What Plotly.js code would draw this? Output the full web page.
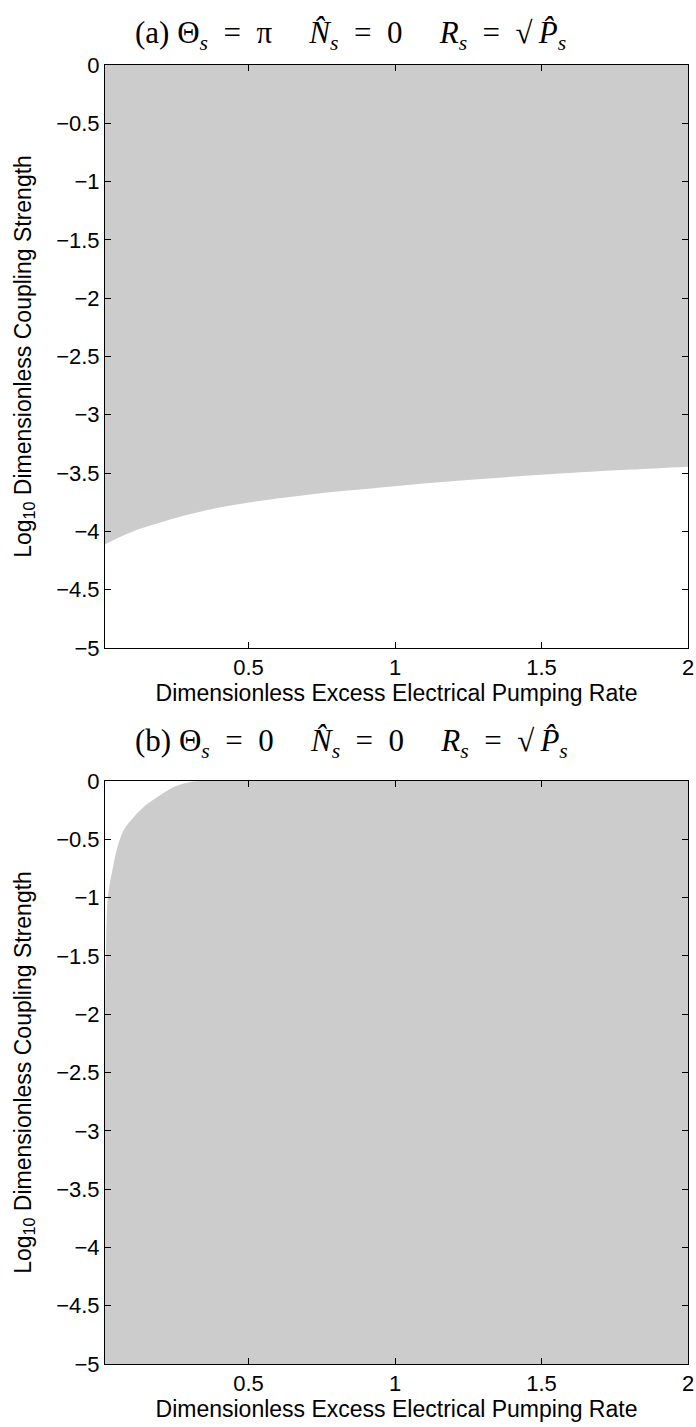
<!DOCTYPE html>
<html><head><meta charset="utf-8">
<script src="https://cdn.plot.ly/plotly-3.0.1.min.js"></script>
<style>html,body{margin:0;padding:0;background:#fff}</style></head>
<body><div id="chart" style="width:696px;height:1427px"></div>
<script>
// Panel (a): boundary of the grey region (grey above the curve, up to log10 = 0)
const pumpA  = [0.01, 0.105, 0.258, 0.411, 0.69, 0.969, 1.247, 1.526, 1.805, 2.0];
const boundA = [-4.11, -4.00, -3.88, -3.79, -3.69, -3.62, -3.56, -3.51, -3.47, -3.445];
const topA   = [0, 0, 0, 0, 0, 0, 0, 0, 0, 0];

// Panel (b): upper edge of the grey region (white corner at top-left)
const pumpB  = [0.01, 0.013, 0.018, 0.025, 0.034, 0.051, 0.074, 0.108, 0.148, 0.188, 0.246, 0.29, 0.33, 2.0];
const boundB = [-2.05, -1.5, -1.05, -0.9, -0.78, -0.58, -0.42, -0.31, -0.21, -0.14, -0.05, -0.015, 0, 0];
const floorB = [-5, -5, -5, -5, -5, -5, -5, -5, -5, -5, -5, -5, -5, -5];

const xTickVals = [0.5, 1, 1.5, 2];
const xTickText = ['0.5', '1', '1.5', '2'];
const yTickVals = [0, -0.5, -1, -1.5, -2, -2.5, -3, -3.5, -4, -4.5, -5];
const yTickText = ['0', '\u22120.5', '\u22121', '\u22121.5', '\u22122', '\u22122.5', '\u22123', '\u22123.5', '\u22124', '\u22124.5', '\u22125'];

const EQ = '\u2002=\u2002', GAP = '\u2003\u2009';
const titleA = '(a) \u0398<sub><i>s</i></sub>' + EQ + '\u03c0' + GAP + '<i>N\u0302</i><sub><i>s</i></sub>' + EQ + '0' + GAP + '<i>R</i><sub><i>s</i></sub>' + EQ + '\u221a\u2009<i>P\u0302</i><sub><i>s</i></sub>';
const titleB = '(b) \u0398<sub><i>s</i></sub>' + EQ + '0' + GAP + '<i>N\u0302</i><sub><i>s</i></sub>' + EQ + '0' + GAP + '<i>R</i><sub><i>s</i></sub>' + EQ + '\u221a\u2009<i>P\u0302</i><sub><i>s</i></sub>';
const xTitle = 'Dimensionless Excess Electrical Pumping Rate';
const yTitle = 'Log<sub>10</sub> Dimensionless Coupling Strength';

const GREY = '#cccccc';

const traces = [
  {x: pumpA, y: boundA, xaxis: 'x', yaxis: 'y', mode: 'lines', line: {width: 0, color: GREY, shape: 'spline'}, hoverinfo: 'skip', showlegend: false},
  {x: pumpA, y: topA, xaxis: 'x', yaxis: 'y', mode: 'lines', line: {width: 0, color: GREY}, fill: 'tonexty', fillcolor: GREY, hoverinfo: 'skip', showlegend: false},
  {x: pumpB, y: floorB, xaxis: 'x2', yaxis: 'y2', mode: 'lines', line: {width: 0, color: GREY}, hoverinfo: 'skip', showlegend: false},
  {x: pumpB, y: boundB, xaxis: 'x2', yaxis: 'y2', mode: 'lines', line: {width: 0, color: GREY, shape: 'spline'}, fill: 'tonexty', fillcolor: GREY, hoverinfo: 'skip', showlegend: false}
];

const tickFont = {family: 'Liberation Sans, Arial, sans-serif', size: 22, color: '#000'};
const titleFont = {family: 'Liberation Sans, Arial, sans-serif', size: 23, color: '#000'};
const headFont = {family: 'Liberation Serif, DejaVu Serif, serif', size: 31, color: '#000'};

function xAxis(anchor) {
  return {
    anchor: anchor, domain: [0, 1], range: [0.01, 2], tickvals: xTickVals, ticktext: xTickText,
    ticks: 'inside', ticklen: 6, tickcolor: '#000', tickwidth: 1, mirror: 'ticks',
    showline: true, linecolor: '#000', linewidth: 1, showgrid: false, zeroline: false,
    tickfont: tickFont, title: {text: xTitle, font: titleFont, standoff: 2}
  };
}
function yAxis(anchor, domain) {
  return {
    anchor: anchor, domain: domain, range: [-5, 0], tickvals: yTickVals, ticktext: yTickText,
    ticks: 'inside', ticklen: 6, tickcolor: '#000', tickwidth: 1, mirror: 'ticks',
    showline: true, linecolor: '#000', linewidth: 1, showgrid: false, zeroline: false,
    tickfont: tickFont, title: {text: yTitle, font: titleFont, standoff: 18}
  };
}

const layout = {
  width: 696, height: 1427,
  margin: {l: 105, r: 8, t: 65, b: 63},
  paper_bgcolor: '#fff', plot_bgcolor: '#fff',
  showlegend: false,
  xaxis: xAxis('y'), yaxis: yAxis('x', [0.5512, 1]),
  xaxis2: xAxis('y2'), yaxis2: yAxis('x2', [0, 0.4488]),
  annotations: [
    {text: titleA, xref: 'paper', yref: 'paper', x: 0.048, y: 1, xanchor: 'left', yanchor: 'bottom', yshift: 8, showarrow: false, font: headFont},
    {text: titleB, xref: 'paper', yref: 'paper', x: 0.048, y: 0.4488, xanchor: 'left', yanchor: 'bottom', yshift: 16, showarrow: false, font: headFont}
  ]
};

Plotly.newPlot('chart', traces, layout, {staticPlot: true, displayModeBar: false});
</script>
</body></html>
